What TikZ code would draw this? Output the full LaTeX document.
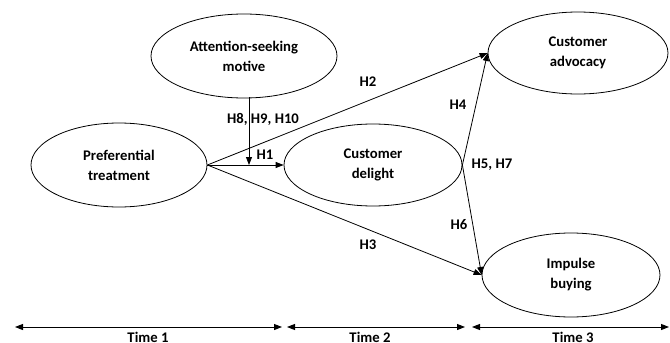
\documentclass[tikz,border=0pt]{standalone}
\usepackage{fontspec}
\setmainfont{Carlito}
\usetikzlibrary{shapes.geometric,arrows.meta}
\begin{document}
\begin{tikzpicture}[x=1pt,y=-1pt,
  construct/.style={draw,ellipse,line width=0.8pt,inner sep=0pt,align=center,font=\bfseries\fontsize{14.7}{20}\selectfont},
  lbl/.style={font=\bfseries\fontsize{14.7}{18}\selectfont,inner sep=0pt},
  path/.style={line width=0.8pt,-{Triangle[length=8pt,width=6pt]}},
  span/.style={line width=1pt,{Triangle[length=8pt,width=6pt]}-{Triangle[length=8pt,width=6pt]}}]
\useasboundingbox (0,0) rectangle (670,343);
\node[construct,minimum width=186pt,minimum height=84pt] (att) at (244,56) {Attention-seeking\\motive};
\node[construct,minimum width=176pt,minimum height=84pt] (pref) at (119,165) {Preferential\\treatment};
\node[construct,minimum width=178pt,minimum height=82pt] (del) at (373,165) {Customer\\delight};
\node[construct,minimum width=180pt,minimum height=82pt] (adv) at (578,53) {Customer\\advocacy};
\node[construct,minimum width=178pt,minimum height=84pt] (imp) at (571,275) {Impulse\\buying};
\coordinate (mod) at (249,165);
\coordinate (modtop) at (249,97);
\draw[path] (pref.east) -- (del.west);
\draw[path] (pref.east) -- (adv.west);
\draw[path] (pref.east) -- (imp.west);
\draw[path] (del.east) -- (adv.west);
\draw[path] (del.east) -- (imp.west);
\draw[path] (modtop) -- (mod);
\node[lbl] (h1) at (265,155) {H1};
\node[lbl] (h2) at (368,82) {H2};
\node[lbl] (h3) at (368,245) {H3};
\node[lbl] (h4) at (458,105) {H4};
\node[lbl] (h57) at (492,165) {H5, H7};
\node[lbl] (h6) at (459,225) {H6};
\node[lbl] (h810) at (263,119) {H8, H9, H10};
\coordinate (t1a) at (15,327);
\coordinate (t1b) at (282,327);
\coordinate (t2a) at (287,327);
\coordinate (t2b) at (465,327);
\coordinate (t3a) at (472,327);
\coordinate (t3b) at (669,327);
\draw[span] (t1a) -- (t1b);
\draw[span] (t2a) -- (t2b);
\draw[span] (t3a) -- (t3b);
\node[lbl,anchor=base] (time1) at (148,342) {Time 1};
\node[lbl,anchor=base] (time2) at (370,342) {Time 2};
\node[lbl,anchor=base] (time3) at (573,342) {Time 3};
\end{tikzpicture}
\end{document}
